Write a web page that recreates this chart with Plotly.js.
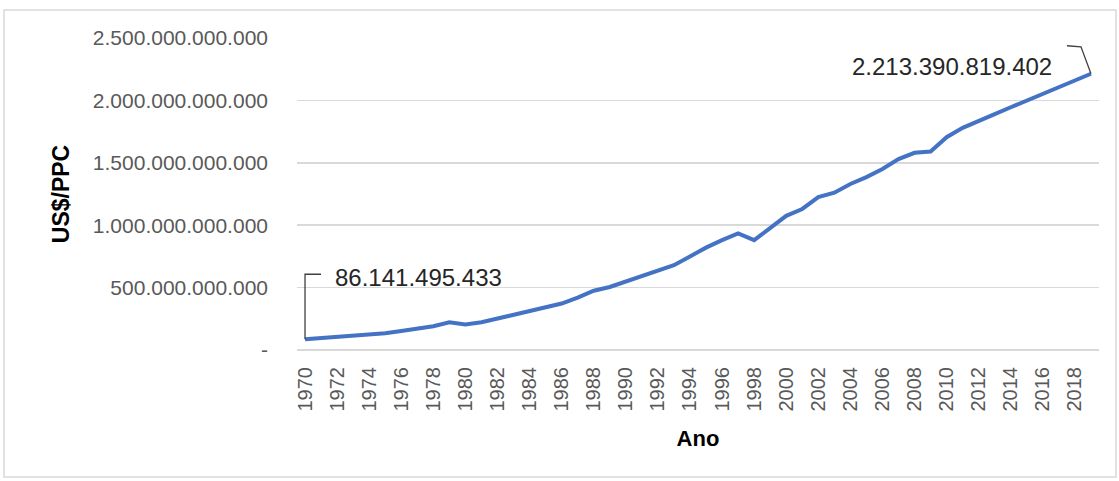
<!DOCTYPE html>
<html>
<head>
<meta charset="utf-8">
<script src="https://cdn.plot.ly/plotly-3.0.1.min.js"></script>
<style>html,body{margin:0;padding:0;background:#fff;}#chart{width:1119px;height:481px;}</style>
</head>
<body>
<div id="chart"></div>
<script>
const years = [1970,1971,1972,1973,1974,1975,1976,1977,1978,1979,
  1980,1981,1982,1983,1984,1985,1986,1987,1988,1989,
  1990,1991,1992,1993,1994,1995,1996,1997,1998,1999,
  2000,2001,2002,2003,2004,2005,2006,2007,2008,2009,
  2010,2011,2012,2013,2014,2015,2016,2017,2018,2019];
const gdpBillions = [86.141495433,95,104,114,123,134,152,170,190,222,
  205,222,252,285,315,338,372,420,475,505,
  550,595,635,680,750,820,880,935,880,980,
  1075,1130,1225,1260,1330,1385,1450,1530,1580,1590,
  1705,1780,1838,1890,1945,2000,2055,2110,2165,2213.390819402];
const gdp = gdpBillions.map(v => v * 1e9);
const yTickVals = [0, 500e9, 1000e9, 1500e9, 2000e9, 2500e9];
const yTickText = ["-", "500.000.000.000", "1.000.000.000.000", "1.500.000.000.000", "2.000.000.000.000", "2.500.000.000.000"];
const firstLabel = "86.141.495.433";
const lastLabel = "2.213.390.819.402";

const n = years.length;
const pxL = 297, pxR = 1099, pxT = 38, pxB = 350;
const pw = pxR - pxL, ph = pxB - pxT;
const px = v => (v - pxL) / pw;
const py = v => (pxB - v) / ph;

const trace = {
  x: years, y: gdp, type: 'scatter', mode: 'lines',
  line: {color: '#4472C4', width: 4},
  hoverinfo: 'skip'
};

const layout = {
  width: 1119, height: 481,
  margin: {l: pxL, r: 1119 - pxR, t: pxT, b: 481 - pxB},
  paper_bgcolor: '#ffffff', plot_bgcolor: '#ffffff',
  showlegend: false,
  font: {family: 'Liberation Sans, Arial, sans-serif', color: '#595959'},
  xaxis: {
    range: [1969.5, 2019.5], tickmode: 'linear', tick0: 1970, dtick: 2,
    tickangle: -90, tickfont: {size: 20, color: '#595959'},
    showgrid: false, zeroline: false, showline: false, ticks: '',
    ticklabelstandoff: 12,
    title: {text: '<b>Ano</b>', font: {size: 22, color: '#000000'}, standoff: 20},
    automargin: false, fixedrange: true
  },
  yaxis: {
    range: [0, 2500e9], tickvals: yTickVals, ticktext: yTickText,
    tickfont: {size: 21, color: '#595959'},
    showgrid: true, gridcolor: '#d9d9d9', gridwidth: 1.5,
    zeroline: true, zerolinecolor: '#d9d9d9', zerolinewidth: 2,
    showline: false, ticks: '', ticklabelstandoff: 28,
    title: {text: '<b>US$/PPC</b>', font: {size: 23, color: '#000000'}, standoff: 16},
    automargin: false, fixedrange: true
  },
  shapes: [
    {type: 'rect', xref: 'paper', yref: 'paper', x0: px(4), x1: px(1116), y0: py(477), y1: py(10),
     line: {color: '#d9d9d9', width: 1.5}, fillcolor: 'rgba(0,0,0,0)', layer: 'below'},
    {type: 'path', xref: 'x', yref: 'y', xsizemode: 'pixel', ysizemode: 'pixel',
     xanchor: years[0], yanchor: gdp[0],
     path: 'M0,0 L0,65 L16,65', line: {color: '#404040', width: 1.3}},
    {type: 'path', xref: 'x', yref: 'y', xsizemode: 'pixel', ysizemode: 'pixel',
     xanchor: years[n - 1], yanchor: gdp[n - 1],
     path: 'M0,0 L-10,27 L-24,28', line: {color: '#404040', width: 1.3}}
  ],
  annotations: [
    {x: years[0], y: gdp[0], xref: 'x', yref: 'y', text: firstLabel, showarrow: false,
     xanchor: 'left', yanchor: 'middle', xshift: 28, yshift: 62,
     font: {size: 24, color: '#262626'}},
    {x: years[n - 1], y: gdp[n - 1], xref: 'x', yref: 'y', text: lastLabel, showarrow: false,
     xanchor: 'right', yanchor: 'middle', xshift: -37, yshift: 7,
     font: {size: 24, color: '#262626'}}
  ]
};

Plotly.newPlot('chart', [trace], layout, {displayModeBar: false, staticPlot: true});
</script>
</body>
</html>
